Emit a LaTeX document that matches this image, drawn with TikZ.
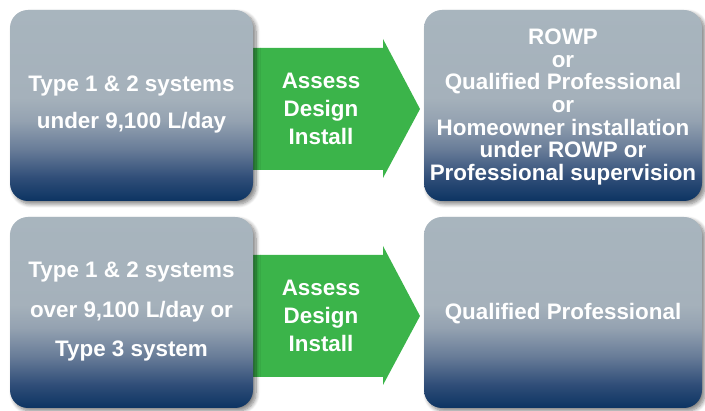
\documentclass[tikz,border=0pt]{standalone}
\usepackage{fontspec}
\setmainfont{Liberation Sans}
\usetikzlibrary{shadows.blur}
\definecolor{boxlight}{HTML}{A8B5BE}
\definecolor{boxl2}{HTML}{A5B1BB}
\definecolor{boxm1}{HTML}{94A2B1}
\definecolor{boxm2}{HTML}{687C98}
\definecolor{boxm3}{HTML}{2F4D78}
\definecolor{boxdark}{HTML}{0C3462}
\definecolor{arrowgreen}{HTML}{3BB44A}
\pgfdeclareverticalshading{boxshade}{100bp}{color(0bp)=(boxdark); color(25bp)=(boxdark); color(31bp)=(boxm3); color(38.5bp)=(boxm2); color(46bp)=(boxm1); color(52bp)=(boxl2); color(75bp)=(boxlight); color(100bp)=(boxlight)}
\tikzset{
  infobox/.style={shading=boxshade, rounded corners=18pt, draw=none,
    blur shadow={shadow xshift=3pt, shadow yshift=-3pt, shadow blur steps=8, shadow opacity=50, shadow blur radius=4pt}},
  wtext/.style={text=white, font=\bfseries\fontsize{22.4}{26}\selectfont, align=center, inner sep=0pt},
  greenarrow/.style={fill=arrowgreen, draw=none}
}
\begin{document}
\begin{tikzpicture}[x=1pt,y=1pt]
\useasboundingbox (0,0) rectangle (705,411);
% arrows (drawn first, boxes overlap them)
\path[greenarrow] (250,363) -- (383,363) -- (383,372) -- (420,302) -- (383,233) -- (383,241) -- (250,241) -- cycle;
\path[greenarrow] (250,156) -- (383,156) -- (383,165) -- (420,95) -- (383,26) -- (383,34) -- (250,34) -- cycle;
\node[wtext, font=\bfseries\fontsize{22.4}{28}\selectfont] (a1) at (321,302) {Assess\\Design\\Install};
\node[wtext, font=\bfseries\fontsize{22.4}{28}\selectfont] (a2) at (321,95) {Assess\\Design\\Install};
% boxes
\path[infobox] (10,210) rectangle (253,401);
\path[infobox] (424,210) rectangle (702,401);
\path[infobox] (10,3) rectangle (253,194);
\path[infobox] (424,3) rectangle (702,194);
\node[wtext, font=\bfseries\fontsize{22.4}{37}\selectfont] (b1) at (131.5,306) {Type 1 \& 2 systems\\under 9,100 L/day};
\node[wtext, font=\bfseries\fontsize{22.4}{22.7}\selectfont] (b3) at (563,304) {ROWP\\or\\Qualified Professional\\or\\Homeowner installation\\under ROWP or\\Professional supervision};
\node[wtext, font=\bfseries\fontsize{22.4}{39.5}\selectfont] (b2) at (131.5,99) {Type 1 \& 2 systems\\over 9,100 L/day or\\Type 3 system};
\node[wtext] (b4) at (563,97) {Qualified Professional};
\end{tikzpicture}
\end{document}
